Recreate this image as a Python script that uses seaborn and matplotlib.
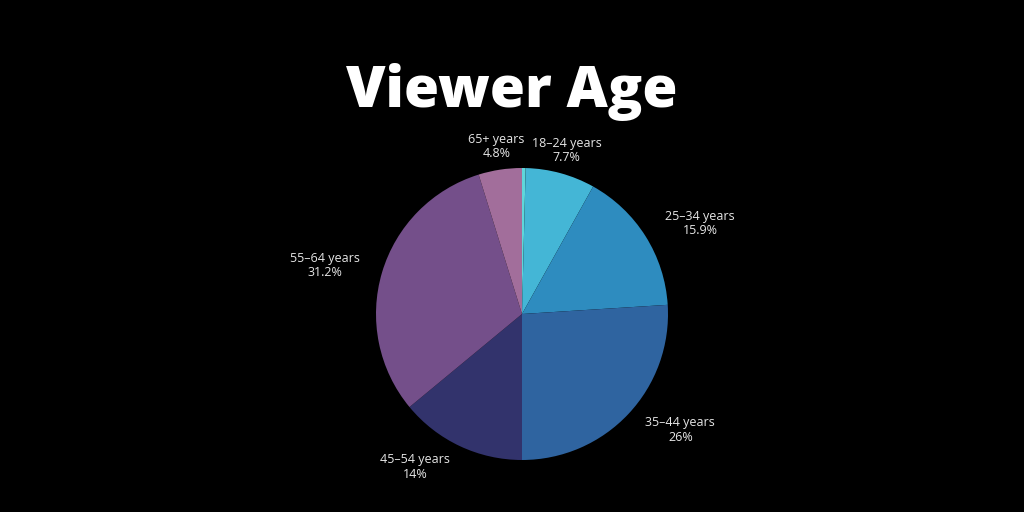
import numpy as np
import matplotlib
matplotlib.use("Agg")
import matplotlib.pyplot as plt
import seaborn as sns

categories = ["13–17 years", "18–24 years", "25–34 years", "35–44 years",
              "45–54 years", "55–64 years", "65+ years"]
shares = [0.4, 7.7, 15.9, 26, 14, 31.2, 4.8]
share_labels = ["", "7.7%", "15.9%", "26%", "14%", "31.2%", "4.8%"]
colors = ["#5fd6da", "#44b6d6", "#2e8cbf", "#2f64a0", "#32336c", "#744f8a", "#a26e9b"]

sns.set_theme(style="white")
plt.rcParams["font.family"] = ["Open Sans", "DejaVu Sans"]

W, H = 1024, 512
fig = plt.figure(figsize=(W / 100, H / 100), dpi=100, facecolor="black")

cx, cy, r_px = 522, 314, 146
half = 2 * r_px
ax = fig.add_axes([(cx - half) / W, (H - cy - half) / H, 2 * half / W, 2 * half / H])
ax.set_facecolor("black")

wedges, _ = ax.pie(shares, colors=sns.color_palette(colors), startangle=90,
                   counterclock=False, radius=1, center=(0, 0),
                   wedgeprops=dict(linewidth=0))
ax.set_xlim(-2, 2)
ax.set_ylim(-2, 2)
ax.set_aspect("equal")
ax.axis("off")

for w, cat, lab in zip(wedges, categories, share_labels):
    if not lab:
        continue
    ang = np.deg2rad((w.theta1 + w.theta2) / 2)
    dx, dy = np.cos(ang), np.sin(ang)
    d = 1.16
    ha = "left" if dx > 0.3 else ("right" if dx < -0.3 else "center")
    ax.text(d * dx, d * dy, f"{cat}\n{lab}", ha=ha, va="center",
            multialignment="center", color="#e6e6e6", fontsize=9,
            linespacing=1.15)

fig.text(0.5, 1 - 107 / H, "Viewer Age", ha="center", va="baseline",
         color="white", fontsize=41, fontweight="heavy")

fig.savefig("out.png", dpi=100, facecolor="black")
